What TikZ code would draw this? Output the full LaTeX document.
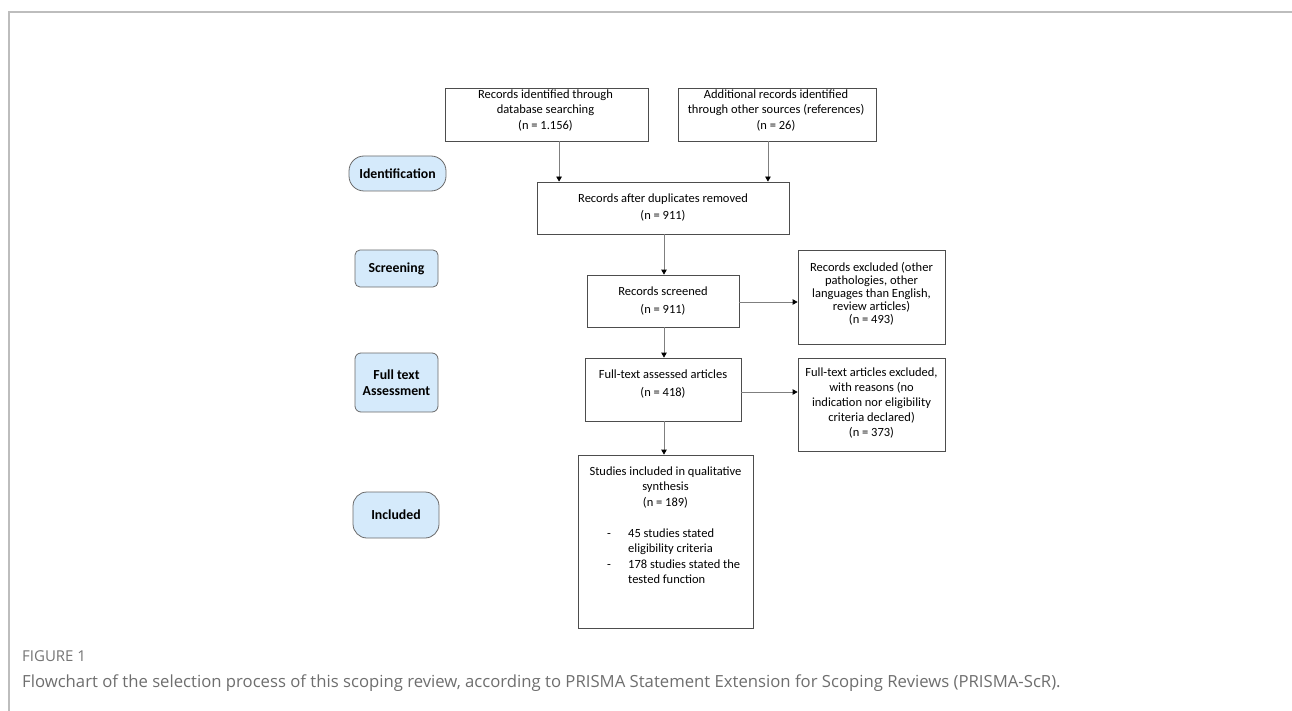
\documentclass[tikz,border=0pt]{standalone}
\usepackage{fontspec}
\setmainfont{Carlito}
\newfontfamily\capfont{Open Sans}
\usetikzlibrary{arrows.meta,calc}
\definecolor{pillblue}{HTML}{D5EAFB}
\definecolor{boxline}{HTML}{4D4D4D}
\definecolor{pillline}{HTML}{6A6A6A}
\definecolor{arrline}{HTML}{7F7F7F}
\definecolor{capgray}{HTML}{6E6E6E}
\definecolor{figgray}{HTML}{747474}
\definecolor{framegray}{HTML}{BDBDBD}
\begin{document}
\begin{tikzpicture}[x=1pt,y=-1pt,
  box/.style={draw=boxline, line width=0.8pt, fill=white, inner sep=0pt},
  txt/.style={align=center, inner sep=0pt, text=black},
  pill/.style={draw=pillline, line width=0.8pt, fill=pillblue, align=center, inner sep=0pt,
     font=\fontsize{13.8}{16}\selectfont\bfseries},
  arr/.style={draw=arrline, line width=0.8pt, -{Triangle[width=5.5pt,length=5pt,color=black,fill=black]}}]
\useasboundingbox (0,0) rectangle (1292,711);
% frame
\draw[framegray, line width=1.2pt] (9,711) -- (9,12) -- (1292,12);

% left stage labels
\node[pill, minimum width=97, minimum height=35, rounded corners=15] (p1) at (397.5,173.5) {Identification};
\node[pill, minimum width=83, minimum height=37, rounded corners=5] (p2) at (396.5,268.5) {Screening};
\node[pill, minimum width=83, minimum height=59, rounded corners=6] (p3) at (396.5,382.5) {Full text\\Assessment};
\node[pill, minimum width=86, minimum height=46, rounded corners=14] (p4) at (396,515) {Included};

% boxes
\node[box, minimum width=203, minimum height=53] (a) at (546.5,114.5) {};
\node[txt, font=\fontsize{12.5}{15.5}\selectfont] (at) at (545.5,110.5) {Records identified through\\database searching\\(n = 1.156)};
\node[box, minimum width=198, minimum height=53] (b) at (777,114.5) {};
\node[txt, font=\fontsize{12.5}{15.5}\selectfont] (bt) at (776,110.5) {Additional records identified\\through other sources (references)\\(n = 26)};
\node[box, minimum width=252, minimum height=52] (c) at (663,208) {};
\node[txt, font=\fontsize{12.5}{17}\selectfont] (ct) at (663,207.5) {Records after duplicates removed\\(n = 911)};
\node[box, minimum width=152, minimum height=52] (d) at (663,301) {};
\node[txt, font=\fontsize{12.5}{18}\selectfont] (dt) at (663,301) {Records screened\\(n = 911)};
\node[box, minimum width=156, minimum height=63] (e) at (663,389.5) {};
\node[txt, font=\fontsize{12.5}{17.7}\selectfont] (et) at (663,384) {Full-text assessed articles\\(n = 418)};
\node[box, minimum width=147, minimum height=94] (x1) at (871.5,297) {};
\node[txt, font=\fontsize{12.5}{13}\selectfont] (x1t) at (871.5,294) {Records excluded (other\\pathologies, other\\languages than English,\\review articles)\\(n = 493)};
\node[box, minimum width=147, minimum height=93] (x2) at (871.5,404.5) {};
\node[txt, font=\fontsize{12.5}{15}\selectfont] (x2t) at (871.5,403) {Full-text articles excluded,\\with reasons (no\\indication nor eligibility\\criteria declared)\\(n = 373)};
\node[box, minimum width=175, minimum height=173] (f) at (665.5,541.5) {};
\node[txt, font=\fontsize{12.5}{15.5}\selectfont] (ft) at (665.5,487.5) {Studies included in qualitative\\synthesis\\(n = 189)};
\begin{scope}[every node/.style={inner sep=0pt, font=\fontsize{12.5}{15.5}\selectfont}]
\node[anchor=base west] (l1) at (628,537) {45 studies stated};
\node[anchor=base west] (l2) at (628,552.5) {eligibility criteria};
\node[anchor=base west] (l3) at (628,568) {178 studies stated the};
\node[anchor=base west] (l4) at (628,583.5) {tested function};
\node[anchor=base] (m1) at (609,537) {-};
\node[anchor=base] (m2) at (609,568) {-};
\end{scope}

% connectors
\coordinate (a1) at ($(a.south west)!0.5616!(a.south east)$);
\coordinate (b1) at ($(b.south west)!0.4545!(b.south east)$);
\draw[arr] (a1) -- (a1 |- c.north);
\draw[arr] (b1) -- (b1 |- c.north);
\coordinate (c1) at ($(c.south)+(1,0)$);
\draw[arr] (c1) -- (c1 |- d.north);
\coordinate (d1) at ($(d.east)+(0,1)$);
\draw[arr] (d1) -- (d1 -| x1.west);
\coordinate (d2) at ($(d.south)+(1,0)$);
\draw[arr] (d2) -- (d2 |- e.north);
\coordinate (e1) at ($(e.east)+(0,2.5)$);
\draw[arr] (e1) -- (e1 -| x2.west);
\coordinate (e2) at ($(e.south)+(1,0)$);
\draw[arr] (e2) -- (e2 |- f.north);

% caption
\node[anchor=base west, inner sep=0pt, text=figgray, font=\capfont\fontsize{15}{17}\selectfont] (fig) at (22,661) {FIGURE 1};
\node[anchor=base west, inner sep=0pt, text=capgray, font=\capfont\fontsize{16.7}{19}\selectfont] (cap) at (22,687) {Flowchart of the selection process of this scoping review, according to PRISMA Statement Extension for Scoping Reviews (PRISMA-ScR).};
\end{tikzpicture}
\end{document}
